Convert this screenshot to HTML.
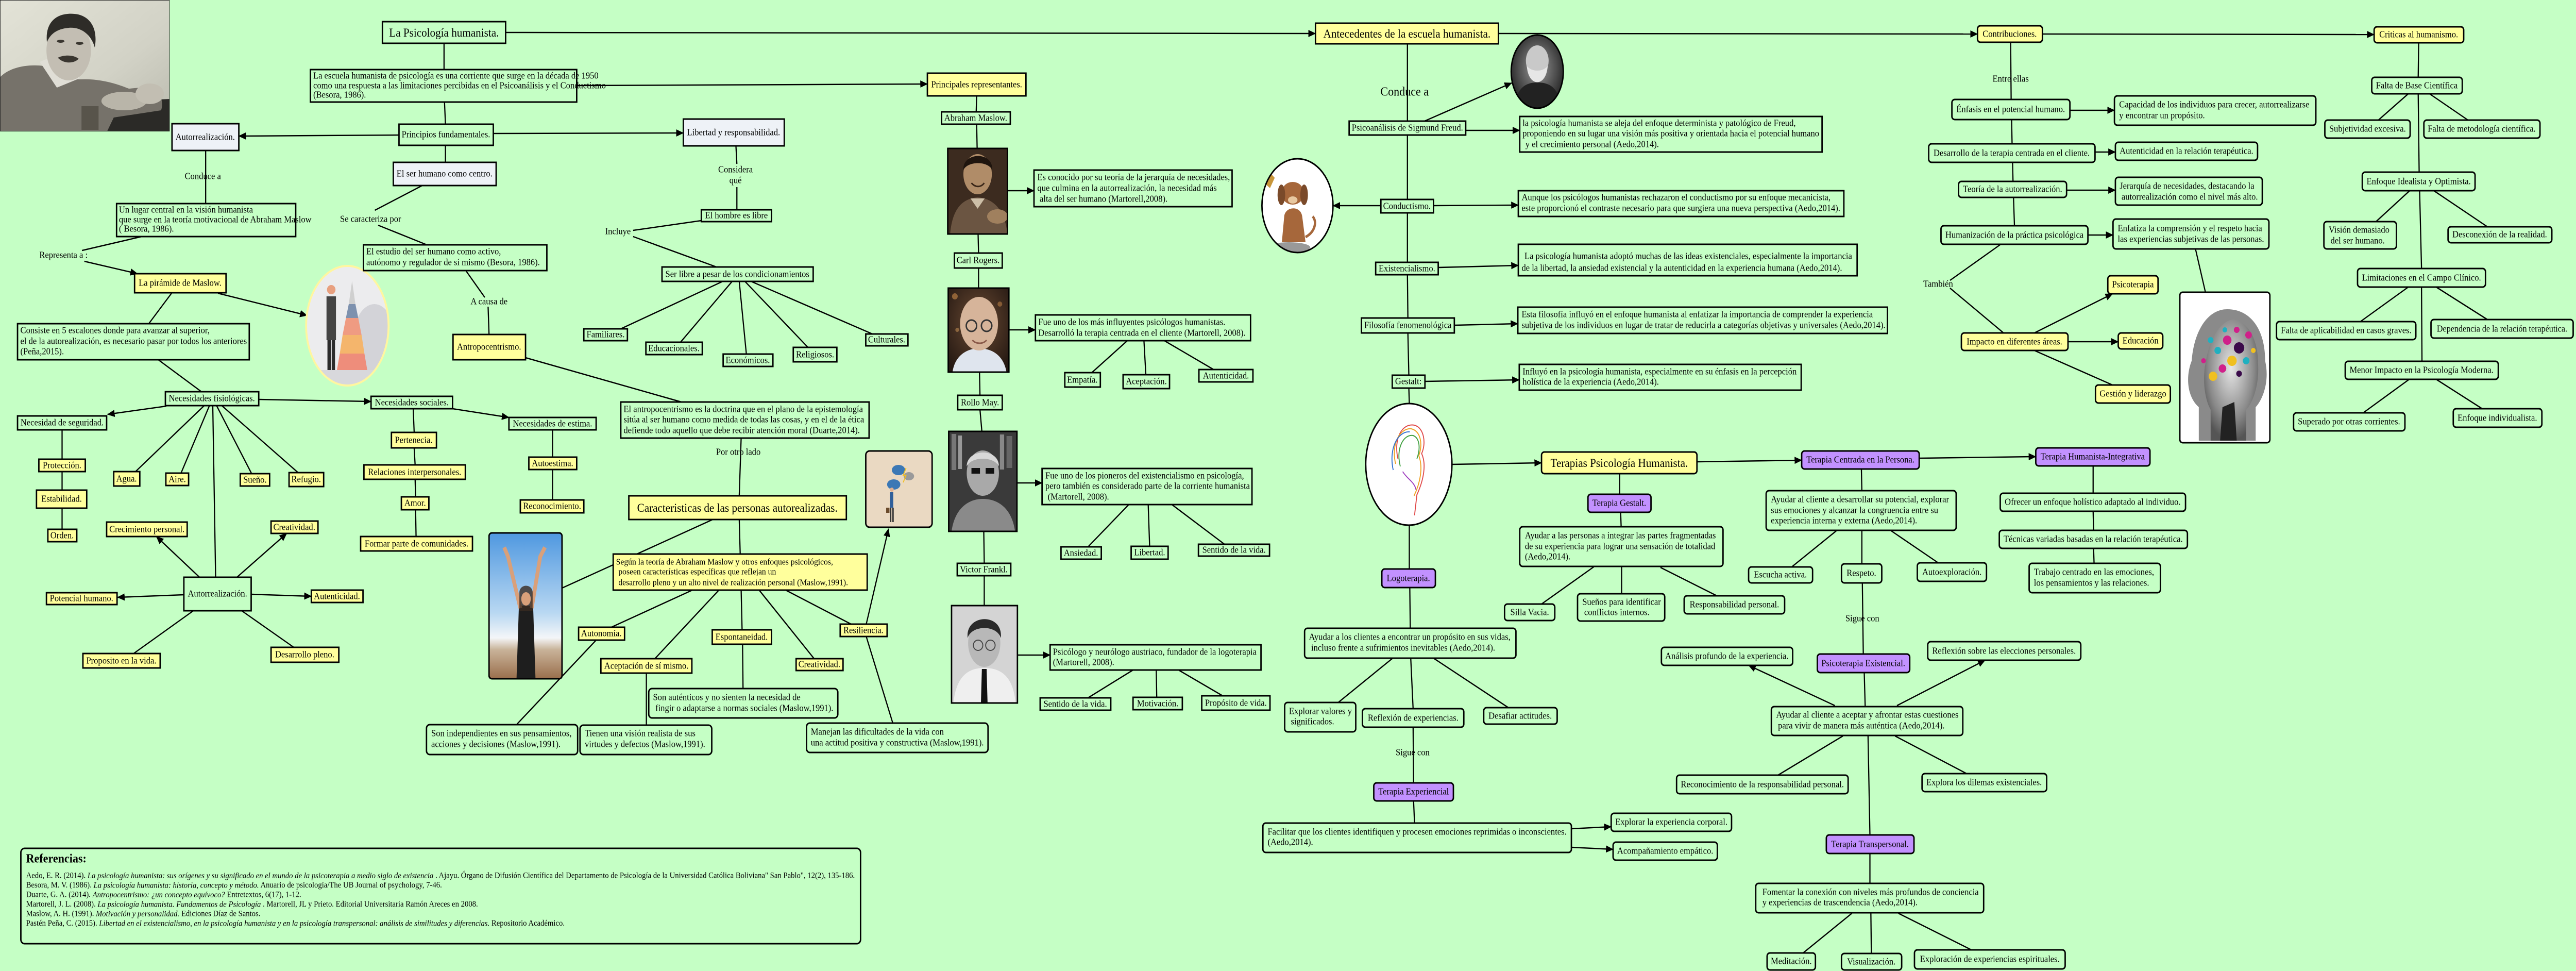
<!DOCTYPE html>
<html lang="es"><head><meta charset="utf-8">
<style>
html,body{margin:0;padding:0;background:#c5ffc5;width:100%;height:100%;overflow:hidden;}
svg{display:block;width:100vw;height:100vh}
text{font-family:"Liberation Serif","DejaVu Serif",serif;fill:#000;dominant-baseline:central;font-size:18px}
.c{text-anchor:middle}
.d{font-size:17.5px}
.t{font-size:23px}
.l{stroke:#000;stroke-width:2.5;fill:none}
.r{fill:#c5ffc5;stroke:#000;stroke-width:3}
.w{fill:#eef2f7;stroke:#000;stroke-width:3}
.y{fill:#ffff9c;stroke:#000;stroke-width:3}
.p{fill:#c291ff;stroke:#000;stroke-width:3}
.rf{font-size:16px}
</style></head><body>
<svg xmlns="http://www.w3.org/2000/svg" viewBox="0 0 5436 1884" preserveAspectRatio="none">
<defs>
<marker id="a" markerUnits="userSpaceOnUse" markerWidth="16" markerHeight="14" refX="15" refY="7" orient="auto" viewBox="0 0 16 14"><path d="M0,0 L16,7 L0,14 z" fill="#000"/></marker>
<linearGradient id="gm" x1="0" y1="0" x2="1" y2="1"><stop offset="0" stop-color="#e3e3d7"/><stop offset=".6" stop-color="#d2d2c6"/><stop offset="1" stop-color="#b9b9ad"/></linearGradient>
<linearGradient id="sky" x1="0" y1="0" x2="0" y2="1"><stop offset="0" stop-color="#4f98e0"/><stop offset=".55" stop-color="#b9d8f2"/><stop offset=".72" stop-color="#f4f6f8"/><stop offset=".8" stop-color="#c9b39a"/><stop offset="1" stop-color="#9a6f4c"/></linearGradient>
<radialGradient id="bok" cx=".5" cy=".4" r=".7"><stop offset="0" stop-color="#6a4a33"/><stop offset="1" stop-color="#241812"/></radialGradient>
<radialGradient id="fr" cx=".5" cy=".45" r=".6"><stop offset="0" stop-color="#9a9a9a"/><stop offset="1" stop-color="#1c1c1c"/></radialGradient>
<radialGradient id="hd" cx=".5" cy=".4" r=".6"><stop offset="0" stop-color="#e6e6e6"/><stop offset=".7" stop-color="#8a8a8a"/><stop offset="1" stop-color="#555"/></radialGradient>
<clipPath id="cpy"><ellipse cx="733" cy="632" rx="87" ry="116"/></clipPath>
<clipPath id="cfr"><ellipse cx="3244" cy="139" rx="55" ry="71"/></clipPath>
<clipPath id="cdg"><ellipse cx="2738" cy="399" rx="75" ry="91"/></clipPath>
<clipPath id="cph"><rect x="0" y="0" width="358" height="255"/></clipPath>
</defs>
<rect width="5436" height="1884" fill="#c5ffc5"/>

<!-- ================= CONNECTORS (plain) ================= -->
<g class="l">
<path d="M937,84 L937,135"/>
<path d="M938,198 L940,241"/>
<path d="M940,282 L940,315"/>
<path d="M434,292 L434,395"/>
<path d="M299,459 L173,486"/>
<path d="M362,569 L314,628"/>
<path d="M334,698 L425,760"/>
<path d="M131,834 L131,891"/><path d="M131,915 L131,951"/><path d="M131,986 L131,1027"/>
<path d="M431,787 L286,915"/><path d="M442,787 L382,918"/><path d="M449,787 L455,1120"/><path d="M457,787 L531,919"/><path d="M468,787 L629,917"/>
<path d="M408,1185 L282,1268"/><path d="M510,1185 L620,1256"/>
<path d="M872,793 L874,839"/><path d="M874,869 L876,902"/><path d="M876,930 L877,964"/><path d="M877,989 L878,1041"/>
<path d="M1166,834 L1166,887"/><path d="M1166,911 L1166,970"/>
<path d="M891,360 L791,408"/><path d="M798,437 L898,474"/>
<path d="M983,525 L1023,577"/><path d="M1030,595 L1032,649"/>
<path d="M1109,694 L1438,780"/>
<path d="M1553,283 L1555,318"/><path d="M1555,363 L1555,407"/>
<path d="M1480,428 L1336,447"/><path d="M1336,459 L1512,518"/>
<path d="M1525,546 L1310,638"/><path d="M1545,546 L1436,664"/><path d="M1560,546 L1575,687"/><path d="M1572,546 L1705,674"/><path d="M1585,546 L1841,648"/>
<path d="M1564,850 L1560,962"/>
<path d="M1504,1008 L1186,1141"/>
<path d="M1560,1008 L1562,1075"/>
<path d="M1461,1145 L1290,1217"/><path d="M1517,1145 L1382,1278"/><path d="M1564,1145 L1566,1222"/><path d="M1602,1145 L1718,1278"/><path d="M1658,1145 L1796,1211"/>
<path d="M1567,1250 L1568,1336"/><path d="M1364,1306 L1364,1407"/><path d="M1258,1242 L1091,1405"/>
<path d="M1828,1235 L1884,1403"/>
<path d="M2061,186 L2060,217"/><path d="M2061,241 L2062,288"/><path d="M2064,454 L2065,491"/><path d="M2065,520 L2065,559"/><path d="M2067,722 L2068,767"/><path d="M2068,795 L2072,837"/><path d="M2076,1031 L2077,1093"/><path d="M2077,1117 L2077,1175"/>
<path d="M2379,661 L2304,723"/><path d="M2414,661 L2418,727"/><path d="M2457,661 L2561,717"/>
<path d="M2382,979 L2296,1061"/><path d="M2423,979 L2426,1060"/><path d="M2473,979 L2584,1056"/>
<path d="M2391,1300 L2296,1354"/><path d="M2440,1300 L2441,1353"/><path d="M2487,1300 L2580,1350"/>
<path d="M2970,85 L2970,235"/><path d="M2970,262 L2970,387"/><path d="M2970,413 L2970,509"/><path d="M2970,533 L2971,617"/><path d="M2971,646 L2973,728"/><path d="M2973,753 L2974,783"/>
<path d="M3418,919 L3418,959"/><path d="M3420,994 L3421,1022"/>
<path d="M3363,1100 L3253,1172"/><path d="M3422,1100 L3422,1152"/><path d="M3504,1101 L3623,1156"/>
<path d="M2974,1018 L2974,1104"/><path d="M2975,1140 L2976,1219"/>
<path d="M2939,1277 L2824,1363"/><path d="M2977,1277 L2982,1375"/><path d="M3025,1277 L3183,1373"/>
<path d="M2982,1411 L2983,1519"/><path d="M2983,1554 L2985,1597"/>
<path d="M3928,910 L3929,952"/>
<path d="M3875,1030 L3781,1100"/><path d="M3929,1030 L3929,1094"/><path d="M3991,1030 L4090,1092"/>
<path d="M3930,1131 L3932,1269"/><path d="M3934,1305 L3936,1371"/>
<path d="M3889,1428 L3752,1504"/><path d="M3999,1428 L4150,1501"/><path d="M3942,1428 L3946,1620"/>
<path d="M3946,1656 L3946,1714"/>
<path d="M3908,1772 L3805,1849"/><path d="M3948,1772 L3949,1850"/><path d="M4006,1772 L4160,1843"/>
<path d="M4417,904 L4417,957"/><path d="M4417,992 L4418,1029"/><path d="M4418,1064 L4419,1093"/>
<path d="M4243,82 L4244,193"/><path d="M4245,232 L4246,279"/><path d="M4247,315 L4248,352"/><path d="M4249,383 L4251,438"/>
<path d="M4222,474 L4115,544"/><path d="M4115,559 L4228,646"/>
<path d="M4293,680 L4458,747"/>
<path d="M4633,483 L4654,567"/>
<path d="M5104,83 L5103,150"/><path d="M5103,182 L5105,334"/><path d="M5106,370 L5110,521"/><path d="M5110,557 L5111,701"/>
<path d="M5082,182 L5019,233"/><path d="M5127,182 L5208,233"/>
<path d="M5085,370 L5014,430"/><path d="M5136,370 L5249,440"/>
<path d="M5082,557 L4981,624"/><path d="M5141,557 L5249,620"/>
<path d="M5084,736 L4987,801"/><path d="M5141,736 L5238,793"/>
</g>

<!-- ================= CONNECTORS (arrows) ================= -->
<g class="l" marker-end="url(#a)">
<path d="M1067,63 L2776,65"/>
<path d="M3162,65 L4173,66"/>
<path d="M4310,66 L5010,67"/>
<path d="M1217,166 L1957,163"/>
<path d="M1041,259 L1442,258"/>
<path d="M842,262 L504,264"/>
<path d="M178,507 L290,531"/>
<path d="M460,569 L648,612"/>
<path d="M546,775 L783,779"/>
<path d="M955,793 L1074,810"/>
<path d="M351,788 L227,804"/>
<path d="M421,1120 L330,1041"/>
<path d="M500,1120 L605,1035"/>
<path d="M388,1154 L248,1159"/>
<path d="M530,1153 L657,1157"/>
<path d="M1828,1211 L1875,1026"/>
<path d="M2126,370 L2182,370"/>
<path d="M2129,640 L2185,640"/>
<path d="M2146,937 L2199,937"/>
<path d="M2147,1271 L2216,1271"/>
<path d="M3006,235 L3190,161"/>
<path d="M3093,253 L3207,253"/>
<path d="M2914,399 L2813,399"/>
<path d="M3025,399 L3204,398"/>
<path d="M3035,519 L3204,515"/>
<path d="M3069,631 L3203,628"/>
<path d="M3007,740 L3206,737"/>
<path d="M3064,901 L3253,898"/>
<path d="M3581,896 L3802,893"/>
<path d="M4050,889 L4296,886"/>
<path d="M3316,1608 L3400,1604"/>
<path d="M3316,1644 L3404,1648"/>
<path d="M3872,1369 L3690,1291"/>
<path d="M4003,1369 L4189,1281"/>
<path d="M4368,214 L4462,214"/>
<path d="M4421,295 L4464,295"/>
<path d="M4361,369 L4464,369"/>
<path d="M4406,456 L4459,456"/>
<path d="M4293,646 L4458,570"/>
<path d="M4364,663 L4470,663"/>
</g>

<!-- ================= IMAGES ================= -->
<g clip-path="url(#cph)">
<rect x="0" y="0" width="358" height="255" fill="url(#gm)"/>
<path d="M220,198 L358,192 L358,255 L220,255 Z" fill="#2b2a27"/>
<path d="M0,255 L0,150 C20,130 60,124 92,128 L130,152 L168,154 C205,152 240,160 272,172 L322,168 C338,176 346,198 340,214 L240,228 L226,255 Z" fill="#76726a"/>
<path d="M84,120 L120,170 L168,152 L162,140 L100,114 Z" fill="#e0ded6"/>
<ellipse cx="145" cy="98" rx="47" ry="58" fill="#c3beb3"/>
<path d="M99,82 C94,35 130,22 165,28 C196,35 206,62 200,92 C192,66 170,52 145,54 C120,56 106,66 99,82 Z" fill="#2e2c28"/>
<path d="M122,112 C135,106 155,106 166,114 C156,124 134,124 122,112 Z" fill="#3a3630"/>
<ellipse cx="128" cy="80" rx="8" ry="3" fill="#3a3630"/><ellipse cx="168" cy="84" rx="8" ry="3" fill="#3a3630"/>
<rect x="172" y="206" width="36" height="46" fill="#58544b"/>
<ellipse cx="262" cy="196" rx="48" ry="18" fill="#b9b5a9"/>
<ellipse cx="316" cy="182" rx="30" ry="20" fill="#c2beb2"/>
<rect x="0" y="0" width="358" height="255" fill="none" stroke="#222" stroke-width="2"/>
</g>

<g>
<ellipse cx="733" cy="632" rx="87" ry="116" fill="#ececee"/>
<g clip-path="url(#cpy)">
<ellipse cx="790" cy="660" rx="45" ry="70" fill="#d3d3d8"/>
<path d="M743,545 L736,590 L750,590 Z" fill="#cfcfcf"/>
<path d="M736,590 L750,590 L756,617 L730,617 Z" fill="#7d91ae"/>
<path d="M730,617 L756,617 L763,650 L723,650 Z" fill="#ef9b82"/>
<path d="M723,650 L763,650 L769,686 L717,686 Z" fill="#f4b56c"/>
<path d="M717,686 L769,686 L775,718 L711,718 Z" fill="#ee8d7b"/>
<rect x="689" y="575" width="20" height="85" fill="#444"/>
<rect x="691" y="660" width="7" height="58" fill="#2c2c2c"/><rect x="700" y="660" width="7" height="58" fill="#2c2c2c"/>
<circle cx="699" cy="562" r="9" fill="#e8a080"/>
<rect x="660" y="718" width="150" height="40" fill="#d8d8dc"/>
</g>
<ellipse cx="733" cy="632" rx="87" ry="116" fill="none" stroke="#fff6a0" stroke-width="4"/>
</g>

<g>
<rect x="1032" y="1034" width="154" height="283" rx="6" fill="url(#sky)"/>
<path d="M1095,1175 L1125,1175 L1130,1317 L1090,1317 Z" fill="#1e1e1e"/>
<path d="M1098,1180 L1072,1080 L1064,1062" stroke="#d9a07a" stroke-width="8" fill="none"/>
<path d="M1122,1180 L1140,1080 L1150,1062" stroke="#d9a07a" stroke-width="8" fill="none"/>
<path d="M1096,1150 C1096,1132 1124,1132 1124,1150 L1124,1185 L1096,1185 Z" fill="#3a2a20" opacity=".8"/>
<ellipse cx="1110" cy="1162" rx="10" ry="13" fill="#d9a07a"/>
<rect x="1032" y="1034" width="154" height="283" rx="6" fill="none" stroke="#000" stroke-width="3"/>
</g>

<g>
<rect x="1827" y="875" width="140" height="148" rx="8" fill="#ead9c2" stroke="#000" stroke-width="3"/>
<ellipse cx="1896" cy="912" rx="14" ry="10" fill="#3b78b5"/>
<ellipse cx="1918" cy="924" rx="11" ry="8" fill="#9a9a9a"/>
<ellipse cx="1886" cy="940" rx="14" ry="10" fill="#3b78b5"/>
<path d="M1912,908 L1906,922 L1912,922 L1906,936" stroke="#f0c020" stroke-width="2" fill="none"/>
<rect x="1878" y="955" width="7" height="30" fill="#2f5f9a"/>
<rect x="1878" y="985" width="3" height="28" fill="#333"/><rect x="1883" y="985" width="3" height="28" fill="#333"/>
<circle cx="1882" cy="950" r="4" fill="#e0b090"/>
<rect x="1870" y="985" width="7" height="10" fill="#6a4a2a"/>
</g>

<g>
<rect x="2000" y="288" width="126" height="166" fill="#3c2b1f"/>
<path d="M2005,454 C2010,400 2035,385 2063,383 C2095,385 2120,405 2126,454 Z" fill="#6b5542"/>
<path d="M2048,385 L2063,405 L2078,385 Z" fill="#cdbfa8"/>
<ellipse cx="2063" cy="338" rx="30" ry="39" fill="#b08c68"/>
<path d="M2033,330 C2030,295 2096,292 2094,330 C2085,312 2042,312 2033,330 Z" fill="#1f150e"/>
<path d="M2050,355 C2058,364 2070,364 2077,355" stroke="#3a2618" stroke-width="3" fill="none"/>
<ellipse cx="2105" cy="420" rx="22" ry="14" fill="#a0805e"/>
<rect x="2000" y="288" width="126" height="166" fill="none" stroke="#000" stroke-width="3"/>
</g>

<g>
<rect x="2001" y="559" width="128" height="163" fill="url(#bok)"/>
<circle cx="2015" cy="575" r="6" fill="#c98a4a" opacity=".6"/><circle cx="2110" cy="590" r="5" fill="#c98a4a" opacity=".5"/><circle cx="2020" cy="640" r="4" fill="#d09a5a" opacity=".5"/>
<path d="M2010,722 C2015,690 2040,676 2066,676 C2094,676 2118,690 2124,722 Z" fill="#dfe5ee"/>
<ellipse cx="2066" cy="628" rx="40" ry="52" fill="#d6b49a"/>
<circle cx="2050" cy="632" r="11" fill="none" stroke="#333" stroke-width="3"/><circle cx="2082" cy="632" r="11" fill="none" stroke="#333" stroke-width="3"/>
<path d="M2052,660 C2060,668 2074,668 2082,660" stroke="#8a5a4a" stroke-width="3" fill="none"/>
<rect x="2001" y="559" width="128" height="163" fill="none" stroke="#000" stroke-width="3"/>
</g>

<g>
<rect x="2002" y="837" width="144" height="194" fill="#3a3a3a"/>
<rect x="2008" y="842" width="10" height="70" fill="#777"/><rect x="2022" y="845" width="8" height="65" fill="#999"/><rect x="2110" y="843" width="9" height="68" fill="#888"/><rect x="2124" y="846" width="12" height="62" fill="#666"/>
<path d="M2008,1031 C2015,985 2045,968 2074,968 C2105,968 2135,985 2142,1031 Z" fill="#8a8a8a"/>
<ellipse cx="2074" cy="918" rx="34" ry="44" fill="#a9a9a9"/>
<path d="M2040,905 C2040,870 2108,868 2108,905 C2098,885 2050,885 2040,905 Z" fill="#d8d8d8"/>
<rect x="2050" y="908" width="18" height="11" fill="#111"/><rect x="2080" y="908" width="18" height="11" fill="#111"/>
<rect x="2002" y="837" width="144" height="194" fill="none" stroke="#000" stroke-width="3"/>
</g>

<g>
<rect x="2008" y="1175" width="139" height="189" fill="#d4d4d4"/>
<path d="M2012,1364 C2018,1310 2045,1296 2077,1296 C2110,1296 2138,1310 2143,1364 Z" fill="#efefef"/>
<path d="M2072,1298 L2082,1298 L2084,1364 L2070,1364 Z" fill="#111"/>
<ellipse cx="2077" cy="1248" rx="34" ry="46" fill="#b8b8b8"/>
<path d="M2042,1238 C2036,1190 2118,1188 2112,1238 C2104,1212 2050,1212 2042,1238 Z" fill="#2a2a2a"/>
<circle cx="2064" cy="1252" r="10" fill="none" stroke="#444" stroke-width="2"/><circle cx="2090" cy="1252" r="10" fill="none" stroke="#444" stroke-width="2"/>
<rect x="2008" y="1175" width="139" height="189" fill="none" stroke="#000" stroke-width="3"/>
</g>

<g>
<ellipse cx="3244" cy="139" rx="55" ry="71" fill="url(#fr)"/>
<g clip-path="url(#cfr)">
<path d="M3195,210 C3200,170 3220,160 3244,160 C3270,160 3290,170 3295,210 Z" fill="#222"/>
<ellipse cx="3244" cy="118" rx="24" ry="30" fill="#c9c9c9"/>
<path d="M3222,128 C3225,170 3263,170 3266,128 C3256,140 3232,140 3222,128 Z" fill="#e6e6e6"/>
</g>
<ellipse cx="3244" cy="139" rx="55" ry="71" fill="none" stroke="#000" stroke-width="3"/>
</g>

<g>
<ellipse cx="2738" cy="399" rx="75" ry="91" fill="#fff"/>
<g clip-path="url(#cdg)">
<ellipse cx="2720" cy="480" rx="45" ry="10" fill="#999"/>
<path d="M2705,470 L2710,420 C2712,400 2745,398 2748,420 L2755,470 Z" fill="#a6673b"/>
<ellipse cx="2728" cy="375" rx="24" ry="22" fill="#a6673b"/>
<ellipse cx="2704" cy="378" rx="8" ry="20" fill="#7a4a2a"/><ellipse cx="2752" cy="378" rx="8" ry="20" fill="#7a4a2a"/>
<ellipse cx="2728" cy="388" rx="10" ry="7" fill="#e8c8a0"/>
<path d="M2755,460 C2775,450 2780,430 2770,420" stroke="#a6673b" stroke-width="5" fill="none"/>
<path d="M2665,320 L2690,345 L2680,365 L2662,350 Z" fill="#c8963a"/>
</g>
<ellipse cx="2738" cy="399" rx="75" ry="91" fill="none" stroke="#000" stroke-width="3"/>
</g>

<g>
<ellipse cx="2973" cy="901" rx="91" ry="118" fill="#fff" stroke="#000" stroke-width="3"/>
<g fill="none" stroke-width="2">
<path d="M2950,890 C2940,850 2960,820 2985,825 C3005,830 3010,860 3000,880 C3010,900 3005,930 2990,960 L2985,1000" stroke="#e04848"/>
<path d="M2945,900 C2935,860 2955,830 2978,832 C2998,836 3003,862 2994,884 C3003,906 2998,935 2984,962" stroke="#f0a020"/>
<path d="M2955,905 C2945,870 2962,842 2982,845 C2996,850 2998,870 2990,890" stroke="#40a040"/>
<path d="M2940,912 C2930,870 2950,836 2975,838" stroke="#3070d0"/>
<path d="M2960,915 C2970,930 2985,935 2988,950" stroke="#a040c0"/>
</g>
</g>

<g>
<rect x="4600" y="567" width="190" height="292" rx="6" fill="#fff" stroke="#000" stroke-width="3"/>
<path d="M4640,855 L4640,790 C4615,770 4612,730 4625,700 C4630,640 4660,600 4700,600 C4750,600 4780,640 4780,700 C4790,740 4775,775 4760,790 L4760,855 Z" fill="#8a8a8a"/>
<path d="M4665,855 L4665,795 C4650,770 4648,730 4655,700 C4665,650 4690,620 4715,620 C4745,625 4765,660 4765,705 C4768,745 4755,780 4740,795 L4740,855 Z" fill="url(#hd)"/>
<path d="M4685,855 L4690,790 L4715,780 L4720,855 Z" fill="#222"/>
<g>
<circle cx="4700" cy="660" r="9" fill="#d0208a"/><circle cx="4725" cy="675" r="11" fill="#3a0a4a"/><circle cx="4680" cy="680" r="7" fill="#20b0c0"/>
<circle cx="4745" cy="650" r="7" fill="#d0208a"/><circle cx="4665" cy="660" r="6" fill="#20b0c0"/><circle cx="4710" cy="700" r="10" fill="#f0c020"/>
<circle cx="4740" cy="700" r="7" fill="#20b0c0"/><circle cx="4690" cy="715" r="8" fill="#d0208a"/><circle cx="4670" cy="730" r="9" fill="#f0c020"/>
<circle cx="4725" cy="725" r="6" fill="#3a0a4a"/><circle cx="4755" cy="680" r="5" fill="#f0c020"/><circle cx="4695" cy="640" r="5" fill="#20b0c0"/>
<circle cx="4720" cy="640" r="6" fill="#d0208a"/><circle cx="4650" cy="700" r="5" fill="#d0208a"/>
</g>
</g>

<!-- ================= BOXES ================= -->
<g class="r">
<rect x="807" y="42" width="260" height="42"/>
<rect x="655" y="135" width="562" height="63"/>
<rect x="842" y="241" width="199" height="41"/>
<rect x="246" y="395" width="378" height="64"/>
<rect x="37" y="628" width="489" height="70"/>
<rect x="349" y="760" width="197" height="27"/>
<rect x="783" y="769" width="172" height="24"/>
<rect x="1074" y="810" width="184" height="24"/>
<rect x="37" y="807" width="188" height="27"/>
<rect x="388" y="1120" width="142" height="65"/>
<rect x="767" y="475" width="387" height="50"/>
<rect x="1232" y="638" width="92" height="23"/>
<rect x="1480" y="407" width="148" height="23"/>
<rect x="1397" y="518" width="319" height="28"/>
<rect x="1363" y="664" width="119" height="24"/>
<rect x="1526" y="687" width="105" height="24"/>
<rect x="1674" y="674" width="92" height="28"/>
<rect x="1827" y="648" width="89" height="23"/>
<rect x="1310" y="780" width="524" height="70"/>
<rect x="1987" y="217" width="145" height="24"/>
<rect x="2182" y="330" width="418" height="71"/>
<rect x="2014" y="491" width="101" height="29"/>
<rect x="2185" y="611" width="454" height="50"/>
<rect x="2247" y="723" width="75" height="28"/>
<rect x="2370" y="727" width="98" height="27"/>
<rect x="2530" y="717" width="114" height="24"/>
<rect x="2021" y="767" width="94" height="28"/>
<rect x="2199" y="909" width="443" height="70"/>
<rect x="2239" y="1061" width="85" height="24"/>
<rect x="2387" y="1060" width="78" height="25"/>
<rect x="2529" y="1056" width="150" height="23"/>
<rect x="2020" y="1093" width="113" height="24"/>
<rect x="2216" y="1251" width="445" height="49"/>
<rect x="2195" y="1354" width="149" height="24"/>
<rect x="2391" y="1353" width="104" height="24"/>
<rect x="2536" y="1350" width="144" height="28"/>
<rect x="2847" y="235" width="246" height="27"/>
<rect x="3207" y="226" width="638" height="69"/>
<rect x="2914" y="387" width="111" height="26"/>
<rect x="3204" y="370" width="687" height="50"/>
<rect x="2903" y="509" width="132" height="24"/>
<rect x="3204" y="474" width="715" height="61"/>
<rect x="2873" y="617" width="196" height="29"/>
<rect x="3203" y="596" width="780" height="51"/>
<rect x="2938" y="728" width="69" height="25"/>
<rect x="3206" y="707" width="595" height="50"/>
</g>
<g class="w">
<rect x="363" y="240" width="141" height="52"/>
<rect x="830" y="315" width="217" height="45"/>
<rect x="1442" y="231" width="213" height="52"/>
</g>
<g class="y">
<rect x="284" y="531" width="193" height="37"/>
<rect x="82" y="891" width="98" height="24"/>
<rect x="77" y="951" width="106" height="35"/>
<rect x="101" y="1027" width="61" height="24"/>
<rect x="240" y="915" width="55" height="28"/>
<rect x="350" y="918" width="48" height="24"/>
<rect x="507" y="919" width="62" height="24"/>
<rect x="610" y="917" width="73" height="27"/>
<rect x="225" y="1013" width="170" height="28"/>
<rect x="572" y="1011" width="99" height="24"/>
<rect x="98" y="1150" width="149" height="23"/>
<rect x="657" y="1145" width="109" height="24"/>
<rect x="175" y="1268" width="163" height="28"/>
<rect x="572" y="1256" width="143" height="29"/>
<rect x="826" y="839" width="95" height="30"/>
<rect x="768" y="902" width="214" height="28"/>
<rect x="847" y="964" width="58" height="25"/>
<rect x="761" y="1041" width="236" height="28"/>
<rect x="1116" y="887" width="101" height="24"/>
<rect x="1098" y="970" width="134" height="25"/>
<rect x="956" y="649" width="153" height="49"/>
<rect x="1957" y="142" width="208" height="44"/>
<rect x="1327" y="962" width="459" height="46"/>
<rect x="1294" y="1075" width="536" height="70"/>
<rect x="1221" y="1217" width="97" height="25"/>
<rect x="1268" y="1278" width="192" height="28"/>
<rect x="1503" y="1222" width="125" height="28"/>
<rect x="1680" y="1278" width="99" height="23"/>
<rect x="1773" y="1211" width="99" height="24"/>
<rect x="2776" y="45" width="386" height="40"/>
</g>
<g class="y">
<rect x="3253" y="877" width="328" height="42" rx="6"/>
<rect x="4173" y="50" width="137" height="32" rx="6"/>
<rect x="5010" y="52" width="189" height="31" rx="6"/>
<rect x="4448" y="535" width="106" height="35" rx="6"/>
<rect x="4139" y="646" width="225" height="34" rx="6"/>
<rect x="4470" y="646" width="94" height="31" rx="6"/>
<rect x="4422" y="747" width="158" height="35" rx="6"/>
</g>
<g class="p">
<rect x="3802" y="875" width="248" height="35" rx="6"/>
<rect x="4296" y="869" width="241" height="35" rx="6"/>
<rect x="3351" y="959" width="133" height="35" rx="6"/>
<rect x="2916" y="1104" width="113" height="36" rx="6"/>
<rect x="2899" y="1519" width="168" height="35" rx="6"/>
<rect x="3835" y="1269" width="195" height="36" rx="6"/>
<rect x="3854" y="1620" width="185" height="36" rx="6"/>
</g>
<g class="r">
<rect x="900" y="1406" width="319" height="58" rx="7"/>
<rect x="1224" y="1407" width="278" height="57" rx="7"/>
<rect x="1369" y="1336" width="399" height="57" rx="7"/>
<rect x="1702" y="1403" width="383" height="57" rx="7"/>
<rect x="4221" y="957" width="391" height="35" rx="6"/>
<rect x="4219" y="1029" width="397" height="35" rx="6"/>
<rect x="4282" y="1093" width="277" height="57" rx="6"/>
<rect x="3207" y="1022" width="429" height="77" rx="6"/>
<rect x="3175" y="1172" width="106" height="32" rx="6"/>
<rect x="3329" y="1152" width="184" height="53" rx="6"/>
<rect x="3554" y="1156" width="212" height="35" rx="6"/>
<rect x="2753" y="1219" width="446" height="58" rx="6"/>
<rect x="2711" y="1363" width="150" height="57" rx="6"/>
<rect x="2875" y="1375" width="214" height="36" rx="6"/>
<rect x="3131" y="1373" width="155" height="32" rx="6"/>
<rect x="2665" y="1597" width="651" height="57" rx="6"/>
<rect x="3400" y="1578" width="254" height="35" rx="6"/>
<rect x="3404" y="1634" width="220" height="35" rx="6"/>
<rect x="3727" y="952" width="401" height="77" rx="6"/>
<rect x="3690" y="1100" width="135" height="31" rx="6"/>
<rect x="3886" y="1094" width="85" height="37" rx="6"/>
<rect x="4046" y="1092" width="146" height="36" rx="6"/>
<rect x="3506" y="1256" width="277" height="35" rx="6"/>
<rect x="4068" y="1245" width="323" height="36" rx="6"/>
<rect x="3738" y="1371" width="404" height="56" rx="6"/>
<rect x="3538" y="1504" width="362" height="36" rx="6"/>
<rect x="4056" y="1501" width="263" height="35" rx="6"/>
<rect x="3705" y="1714" width="481" height="57" rx="6"/>
<rect x="3729" y="1849" width="102" height="33" rx="6"/>
<rect x="3886" y="1850" width="127" height="32" rx="6"/>
<rect x="4040" y="1843" width="318" height="37" rx="6"/>
<rect x="4119" y="193" width="249" height="39" rx="6"/>
<rect x="4462" y="186" width="425" height="57" rx="6"/>
<rect x="4070" y="279" width="351" height="36" rx="6"/>
<rect x="4464" y="276" width="300" height="35" rx="6"/>
<rect x="4133" y="352" width="228" height="31" rx="6"/>
<rect x="4464" y="344" width="310" height="54" rx="6"/>
<rect x="4096" y="438" width="310" height="36" rx="6"/>
<rect x="4459" y="425" width="329" height="58" rx="6"/>
<rect x="5005" y="150" width="191" height="32" rx="6"/>
<rect x="4906" y="233" width="180" height="35" rx="6"/>
<rect x="5115" y="233" width="245" height="35" rx="6"/>
<rect x="4985" y="334" width="238" height="36" rx="6"/>
<rect x="4904" y="430" width="153" height="53" rx="6"/>
<rect x="5166" y="440" width="219" height="31" rx="6"/>
<rect x="4975" y="521" width="270" height="36" rx="6"/>
<rect x="4804" y="624" width="294" height="35" rx="6"/>
<rect x="5130" y="620" width="300" height="36" rx="6"/>
<rect x="4949" y="701" width="323" height="35" rx="6"/>
<rect x="4840" y="801" width="235" height="35" rx="6"/>
<rect x="5177" y="793" width="187" height="36" rx="6"/>
<rect x="44" y="1646" width="1772" height="185" rx="8"/>
</g>

<!-- ================= TEXT: single line centered ================= -->
<g class="c">
<text x="937" y="63" class="t">La Psicología humanista.</text>
<text x="941" y="261">Principios fundamentales.</text>
<text x="433" y="266">Autorrealización.</text>
<text x="938" y="337">El ser humano como centro.</text>
<text x="380" y="549">La pirámide de Maslow.</text>
<text x="447" y="773">Necesidades fisiológicas.</text>
<text x="869" y="781">Necesidades sociales.</text>
<text x="1166" y="822">Necesidades de estima.</text>
<text x="131" y="820">Necesidad de seguridad.</text>
<text x="131" y="903">Protección.</text>
<text x="130" y="968">Estabilidad.</text>
<text x="131" y="1039">Orden.</text>
<text x="267" y="929">Agua.</text>
<text x="374" y="930">Aire.</text>
<text x="538" y="931">Sueño.</text>
<text x="646" y="930">Refugio.</text>
<text x="310" y="1027">Crecimiento personal.</text>
<text x="621" y="1023">Creatividad.</text>
<text x="459" y="1152">Autorrealización.</text>
<text x="172" y="1161">Potencial humano.</text>
<text x="711" y="1157">Autenticidad.</text>
<text x="256" y="1282">Proposito en la vida.</text>
<text x="643" y="1270">Desarrollo pleno.</text>
<text x="873" y="854">Pertenecia.</text>
<text x="875" y="916">Relaciones interpersonales.</text>
<text x="876" y="976">Amor.</text>
<text x="879" y="1055">Formar parte de comunidades.</text>
<text x="1166" y="899">Autoestima.</text>
<text x="1165" y="982">Reconocimiento.</text>
<text x="1032" y="673">Antropocentrismo.</text>
<text x="1278" y="649">Familiares.</text>
<text x="1548" y="257">Libertad y responsabilidad.</text>
<text x="1554" y="418">El hombre es libre</text>
<text x="1556" y="532">Ser libre a pesar de los condicionamientos</text>
<text x="1422" y="676">Educacionales.</text>
<text x="1578" y="699">Económicos.</text>
<text x="1720" y="688">Religiosos.</text>
<text x="1871" y="659">Culturales.</text>
<text x="2061" y="164">Principales representantes.</text>
<text x="1556" y="985" class="t">Caracteristicas de las personas autorealizadas.</text>
<text x="1269" y="1229">Autonomía.</text>
<text x="1364" y="1292">Aceptación de sí mismo.</text>
<text x="1565" y="1236">Espontaneidad.</text>
<text x="1729" y="1289">Creatividad.</text>
<text x="1822" y="1223">Resiliencia.</text>
<text x="2059" y="229">Abraham Maslow.</text>
<text x="2064" y="505">Carl Rogers.</text>
<text x="2068" y="781">Rollo May.</text>
<text x="2076" y="1105">Victor Frankl.</text>
<text x="2284" y="737">Empatía.</text>
<text x="2419" y="740">Aceptación.</text>
<text x="2587" y="729">Autenticidad.</text>
<text x="2281" y="1073">Ansiedad.</text>
<text x="2426" y="1072">Libertad.</text>
<text x="2604" y="1067">Sentido de la vida.</text>
<text x="2269" y="1366">Sentido de la vida.</text>
<text x="2443" y="1365">Motivación.</text>
<text x="2608" y="1364">Propósito de vida.</text>
<text x="2969" y="65" class="t">Antecedentes de la escuela humanista.</text>
<text x="2970" y="248">Psicoanálisis de Sigmund Freud.</text>
<text x="2969" y="400">Conductismo.</text>
<text x="2969" y="521">Existencialismo.</text>
<text x="2971" y="631">Filosofía fenomenológica</text>
<text x="2972" y="740">Gestalt:</text>
<text x="3417" y="898" class="t">Terapias Psicología Humanista.</text>
<text x="3926" y="892">Terapia Centrada en la Persona.</text>
<text x="4416" y="886">Terapia Humanista-Integrativa</text>
<text x="4416" y="974">Ofrecer un enfoque holístico adaptado al individuo.</text>
<text x="4417" y="1046">Técnicas variadas basadas en la relación terapéutica.</text>
<text x="3417" y="976">Terapia Gestalt.</text>
<text x="3228" y="1188">Silla Vacia.</text>
<text x="3660" y="1173">Responsabilidad personal.</text>
<text x="2972" y="1122">Logoterapia.</text>
<text x="2982" y="1393">Reflexión de experiencias.</text>
<text x="3208" y="1389">Desafiar actitudes.</text>
<text x="2983" y="1536">Terapia Experiencial</text>
<text x="3527" y="1595">Explorar la experiencia corporal.</text>
<text x="3514" y="1651">Acompañamiento empático.</text>
<text x="3757" y="1115">Escucha activa.</text>
<text x="3928" y="1112">Respeto.</text>
<text x="4119" y="1110">Autoexploración.</text>
<text x="3932" y="1287">Psicoterapia Existencial.</text>
<text x="3644" y="1273">Análisis profundo de la experiencia.</text>
<text x="4229" y="1263">Reflexión sobre las elecciones personales.</text>
<text x="3719" y="1522">Reconocimiento de la responsabilidad personal.</text>
<text x="4187" y="1518">Explora los dilemas existenciales.</text>
<text x="3946" y="1638">Terapia Transpersonal.</text>
<text x="3780" y="1865">Meditación.</text>
<text x="3949" y="1866">Visualización.</text>
<text x="4199" y="1861">Exploración de experiencias espirituales.</text>
<text x="4241" y="66">Contribuciones.</text>
<text x="5104" y="67">Criticas al humanismo.</text>
<text x="4243" y="212">Énfasis en el potencial humano.</text>
<text x="4245" y="297">Desarrollo de la terapia centrada en el cliente.</text>
<text x="4614" y="293">Autenticidad en la relación terapéutica.</text>
<text x="4247" y="367">Teoría de la autorrealización.</text>
<text x="4251" y="456">Humanización de la práctica psicológica</text>
<text x="4501" y="552">Psicoterapia</text>
<text x="4251" y="663">Impacto en diferentes áreas.</text>
<text x="4517" y="661">Educación</text>
<text x="4501" y="764">Gestión y liderazgo</text>
<text x="5100" y="166">Falta de Base Científica</text>
<text x="4996" y="250">Subjetividad excesiva.</text>
<text x="5237" y="250">Falta de metodología científica.</text>
<text x="5104" y="352">Enfoque Idealista y Optimista.</text>
<text x="5275" y="455">Desconexión de la realidad.</text>
<text x="5110" y="539">Limitaciones en el Campo Clínico.</text>
<text x="4951" y="641">Falta de aplicabilidad en casos graves.</text>
<text x="5280" y="638" style="font-size:17.5px">Dependencia de la relación terapéutica.</text>
<text x="5110" y="718">Menor Impacto en la Psicología Moderna.</text>
<text x="4957" y="818">Superado por otras corrientes.</text>
<text x="5270" y="811">Enfoque individualista.</text>
<text x="428" y="342">Conduce a</text>
<text x="134" y="495">Representa a :</text>
<text x="782" y="425">Se caracteriza por</text>
<text x="1032" y="585">A causa de</text>
<text x="1304" y="449">Incluye</text>
<text x="1552" y="329">Considera</text>
<text x="1552" y="350">qué</text>
<text x="1558" y="877">Por otro lado</text>
<text x="2964" y="177" style="font-size:24px">Conduce a</text>
<text x="4243" y="153">Entre ellas</text>
<text x="4090" y="551">También</text>
<text x="2981" y="1460">Sigue con</text>
<text x="3930" y="1200">Sigue con</text>
</g>

<!-- ================= TEXT: multi-line left ================= -->
<g style="font-size:16px">
<text x="661" y="147">La escuela humanista de psicología es una corriente que surge en la década de 1950</text>
<text x="661" y="166">como una respuesta a las limitaciones percibidas en el Psicoanálisis y el Conductismo</text>
<text x="661" y="184">(Besora, 1986).</text>
<text x="251" y="407">Un lugar central en la visión humanista</text>
<text x="251" y="426">que surge en la teoría motivacional de Abraham Maslow</text>
<text x="251" y="444">( Besora, 1986).</text>
</g>
<g class="d">
<text x="43" y="641">Consiste en 5 escalones donde para avanzar al superior,</text>
<text x="43" y="662">el de la autorealización, es necesario pasar por todos los anteriores</text>
<text x="43" y="682">(Peña,2015).</text>
<text x="773" y="488">El estudio del ser humano como activo,</text>
<text x="773" y="509">autónomo y regulador de sí mismo  (Besora, 1986).</text>
<text x="1316" y="794">El antropocentrismo es la doctrina que en el plano de la epistemología</text>
<text x="1316" y="814">sitúa al ser humano como medida de todas las cosas, y en el de la ética</text>
<text x="1316" y="835">defiende todo aquello que debe recibir atención moral (Duarte,2014).</text>
<text x="1300" y="1090" style="font-size:17px">Según la teoría de Abraham Maslow y otros enfoques psicológicos,</text>
<text x="1305" y="1109" style="font-size:17px">poseen características específicas que reflejan un</text>
<text x="1305" y="1130" style="font-size:17px">desarrollo pleno y un alto nivel de realización personal (Maslow,1991).</text>
<text x="910" y="1423">Son independientes en sus pensamientos,</text>
<text x="910" y="1444">acciones y decisiones (Maslow,1991).</text>
<text x="1234" y="1423">Tienen una visión realista de sus</text>
<text x="1234" y="1444">virtudes y defectos (Maslow,1991).</text>
<text x="1378" y="1353">Son auténticos y no sienten la necesidad de</text>
<text x="1383" y="1374">fingir o adaptarse a normas sociales (Maslow,1991).</text>
<text x="1711" y="1420">Manejan las dificultades de la vida con</text>
<text x="1711" y="1441">una actitud positiva y constructiva (Maslow,1991).</text>
<text x="2189" y="344">Es conocido por su teoría de la jerarquía de necesidades,</text>
<text x="2189" y="365">que culmina en la autorrealización, la necesidad más</text>
<text x="2194" y="386">alta del ser humano (Martorell,2008).</text>
<text x="2191" y="625">Fue uno de los más influyentes psicólogos humanistas.</text>
<text x="2191" y="646">Desarrolló la terapia centrada en el cliente (Martorell, 2008).</text>
<text x="2206" y="923">Fue uno de los pioneros del existencialismo en psicología,</text>
<text x="2206" y="943">pero también es considerado parte de la corriente humanista</text>
<text x="2211" y="964">(Martorell, 2008).</text>
<text x="2222" y="1265">Psicólogo y neurólogo austriaco, fundador de la logoterapia</text>
<text x="2222" y="1285">(Martorell, 2008).</text>
<text x="3213" y="239">la psicología humanista se aleja del enfoque determinista y patológico de Freud,</text>
<text x="3213" y="259">proponiendo en su lugar una visión más positiva y orientada hacia el potencial humano</text>
<text x="3219" y="280">y el crecimiento personal (Aedo,2014).</text>
<text x="3211" y="383">Aunque los psicólogos humanistas rechazaron el conductismo por su enfoque mecanicista,</text>
<text x="3211" y="404">este proporcionó el contraste necesario para que surgiera una nueva perspectiva (Aedo,2014).</text>
<text x="3217" y="497">La psicología humanista adoptó muchas de las ideas existenciales, especialmente la importancia</text>
<text x="3211" y="520">de la libertad, la ansiedad existencial y la autenticidad en la experiencia humana (Aedo,2014).</text>
<text x="3211" y="610">Esta filosofía influyó en el enfoque humanista al enfatizar la importancia de comprender la experiencia</text>
<text x="3211" y="631">subjetiva de los individuos en lugar de tratar de reducirla a categorías objetivas y universales (Aedo,2014).</text>
<text x="3213" y="721">Influyó en la psicología humanista, especialmente en su énfasis en la percepción</text>
<text x="3213" y="741">holística de la experiencia (Aedo,2014).</text>
<text x="3737" y="969">Ayudar al cliente a desarrollar su potencial, explorar</text>
<text x="3737" y="990">sus emociones y alcanzar la congruencia entre su</text>
<text x="3737" y="1010">experiencia interna y externa (Aedo,2014).</text>
<text x="3218" y="1039">Ayudar a las personas a integrar las partes fragmentadas</text>
<text x="3218" y="1060">de su experiencia para lograr una sensación de totalidad</text>
<text x="3218" y="1080">(Aedo,2014).</text>
<text x="3339" y="1168">Sueños para identificar</text>
<text x="3343" y="1188">conflictos internos.</text>
<text x="2762" y="1236">Ayudar a los clientes a encontrar un propósito en sus vidas,</text>
<text x="2767" y="1257">incluso frente a sufrimientos inevitables (Aedo,2014).</text>
<text x="2720" y="1380">Explorar valores y</text>
<text x="2724" y="1400">significados.</text>
<text x="2675" y="1614">Facilitar que los clientes identifiquen y procesen emociones reprimidas o inconscientes.</text>
<text x="2675" y="1634">(Aedo,2014).</text>
<text x="3748" y="1387">Ayudar al cliente a aceptar y afrontar estas cuestiones</text>
<text x="3752" y="1408">para vivir de manera más auténtica (Aedo,2014).</text>
<text x="3719" y="1731">Fomentar la conexión con niveles más profundos de conciencia</text>
<text x="3719" y="1751">y experiencias de trascendencia (Aedo,2014).</text>
<text x="4292" y="1110">Trabajo centrado en las emociones,</text>
<text x="4292" y="1131">los pensamientos y las relaciones.</text>
<text x="4472" y="203">Capacidad de los individuos para crecer, autorrealizarse</text>
<text x="4472" y="224">y encontrar un propósito.</text>
<text x="4473" y="361">Jerarquía de necesidades, destacando la</text>
<text x="4477" y="382">autorrealización como el nivel más alto.</text>
<text x="4469" y="443">Enfatiza la comprensión y el respeto hacia</text>
<text x="4469" y="464">las experiencias subjetivas de las personas.</text>
<text x="4914" y="446">Visión demasiado</text>
<text x="4918" y="467">del ser humano.</text>
</g>

<!-- ================= REFERENCES ================= -->
<text x="55" y="1665" style="font-size:24px;font-weight:bold">Referencias:</text>
<g class="rf">
<text x="55" y="1699" class="rf">Aedo, E. R. (2014). <tspan font-style="italic">La psicología humanista: sus orígenes y su significado en el mundo de la psicoterapia a medio siglo de existencia</tspan> . Ajayu. Órgano de Difusión Científica del Departamento de Psicología de la Universidad Católica Boliviana" San Pablo", 12(2), 135-186.</text>
<text x="55" y="1717.5" class="rf">Besora, M. V. (1986). <tspan font-style="italic">La psicología humanista: historia, concepto y método.</tspan>  Anuario de psicología/The UB Journal of psychology, 7-46.</text>
<text x="55" y="1736" class="rf">Duarte, G. A. (2014). <tspan font-style="italic">Antropocentrismo: ¿un concepto equívoco?</tspan>  Entretextos, 6(17), 1-12.</text>
<text x="55" y="1754.5" class="rf">Martorell, J. L. (2008). <tspan font-style="italic">La psicología humanista. Fundamentos de Psicología</tspan> . Martorell, JL y Prieto. Editorial Universitaria Ramón Areces en 2008.</text>
<text x="55" y="1773" class="rf">Maslow, A. H. (1991). <tspan font-style="italic">Motivación y personalidad.</tspan>  Ediciones Díaz de Santos.</text>
<text x="55" y="1791.5" class="rf">Pastén Peña, C. (2015). <tspan font-style="italic">Libertad en el existencialismo, en la psicología humanista y en la psicología transpersonal: análisis de similitudes y diferencias.</tspan>  Repositorio Académico.</text>
</g>
</svg>
</body></html>
